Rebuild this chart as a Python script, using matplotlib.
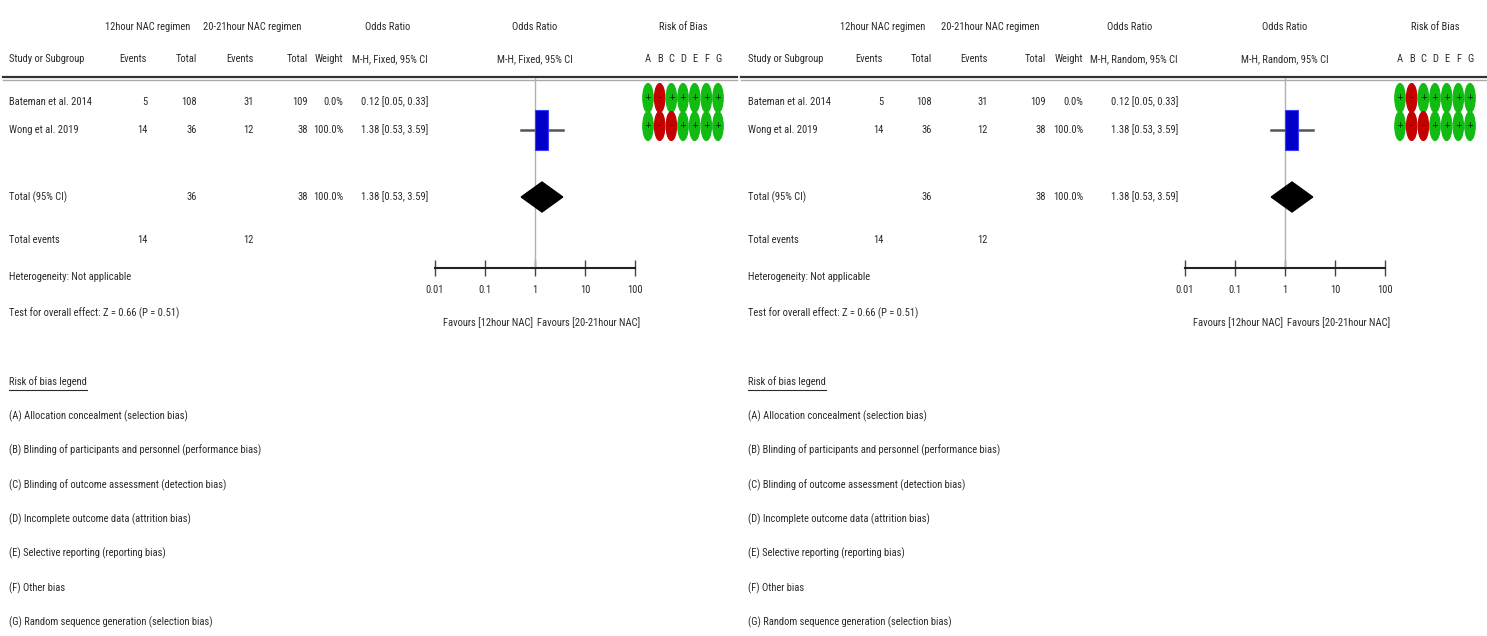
import numpy as np
import matplotlib
matplotlib.use('Agg')
import matplotlib.pyplot as plt
from matplotlib import font_manager
from matplotlib.patches import Rectangle, Polygon, Ellipse

# pick the narrowest installed family
installed = {f.name for f in font_manager.fontManager.ttflist}
family = 'DejaVu Sans'
for cand in ['Liberation Sans Narrow', 'Arial Narrow', 'DejaVu Sans Condensed',
             'Roboto Condensed', 'Liberation Sans', 'Roboto']:
    if cand in installed:
        family = cand
        break
plt.rcParams['font.family'] = [family, 'DejaVu Sans']

# data
studies = ['Bateman et al. 2014', 'Wong et al. 2019']
events_12h = [5, 14]
total_12h = [108, 36]
events_20h = [31, 12]
total_20h = [109, 38]
weights = [0.0, 100.0]
odds = [0.12, 1.38]
ci_low = [0.05, 0.53]
ci_high = [0.33, 3.59]
pooled_or = 1.38
pooled_low = 0.53
pooled_high = 3.59
pooled_total_12h = 36
pooled_total_20h = 38
rob = [['+', '-', '+', '+', '+', '+', '+'],
       ['+', '-', '-', '+', '+', '+', '+']]
rob_letters = ['A', 'B', 'C', 'D', 'E', 'F', 'G']
ticks = [0.01, 0.1, 1, 10, 100]
tick_labels = ['0.01', '0.1', '1', '10', '100']
methods = ['M-H, Fixed, 95% CI', 'M-H, Random, 95% CI']
heterogeneity = 'Heterogeneity: Not applicable'
overall = 'Test for overall effect: Z = 0.66 (P = 0.51)'
legend_items = ['(A) Allocation concealment (selection bias)',
                '(B) Blinding of participants and personnel (performance bias)',
                '(C) Blinding of outcome assessment (detection bias)',
                '(D) Incomplete outcome data (attrition bias)',
                '(E) Selective reporting (reporting bias)',
                '(F) Other bias',
                '(G) Random sequence generation (selection bias)']

W, H = 1487, 636
fig = plt.figure(figsize=(W / 100, H / 100), dpi=100)
ax = fig.add_axes([0, 0, 1, 1])
ax.set_xlim(0, W)
ax.set_ylim(H, 0)
ax.axis('off')

# scale font so the header width matches the reference (~76 px)
probe = ax.text(0, 0, 'Study or Subgroup', fontsize=10)
fig.canvas.draw()
FS = 10 * 76 / probe.get_window_extent().width
probe.remove()
TC = '#2b2b2b'

# layout of the two panels (pixel positions)
panels = [
    dict(study=9, ev1=147, tot1=197, ev2=254, tot2=308, wt=343, ci=428,
         grp1=148, grp2=252, or1=388, f0=435, f1=635, rob0=648, rob1=718,
         line0=3, line1=737),
    dict(study=748, ev1=883, tot1=932, ev2=988, tot2=1046, wt=1083, ci=1178,
         grp1=883, grp2=990, or1=1130, f0=1185, f1=1385, rob0=1400, rob1=1470,
         line0=741, line1=1487),
]

y_h1, y_h2, y_line = 27, 59, 78
y_rows = [102, 130]
y_tot, y_ev, y_het, y_test = 197, 240, 277, 313
y_axis, y_fav = 268, 323
y_leg = 382


def txt(x, y, s, ha='left', **kw):
    return ax.text(x, y, s, ha=ha, va='center', fontsize=FS, color=TC, **kw)


for p, method in zip(panels, methods):
    # headers
    txt(p['grp1'], y_h1, '12hour NAC regimen', ha='center')
    txt(p['grp2'], y_h1, '20-21hour NAC regimen', ha='center')
    txt(p['or1'], y_h1, 'Odds Ratio', ha='center')
    fc = (p['f0'] + p['f1']) / 2
    txt(fc, y_h1, 'Odds Ratio', ha='center')
    txt((p['rob0'] + p['rob1']) / 2, y_h1, 'Risk of Bias', ha='center')
    txt(p['study'], y_h2, 'Study or Subgroup')
    txt(p['ev1'], y_h2, 'Events', ha='right')
    txt(p['tot1'], y_h2, 'Total', ha='right')
    txt(p['ev2'], y_h2, 'Events', ha='right')
    txt(p['tot2'], y_h2, 'Total', ha='right')
    txt(p['wt'], y_h2, 'Weight', ha='right')
    txt(p['ci'], y_h2, method, ha='right')
    txt(fc, y_h2, method, ha='center')
    rob_x = np.linspace(p['rob0'], p['rob1'], len(rob_letters))
    for x, l in zip(rob_x, rob_letters):
        txt(x, y_h2, l, ha='center')
    ax.plot([p['line0'], p['line1']], [y_line - 1, y_line - 1], color='#333333', lw=1.6)
    ax.plot([p['line0'], p['line1']], [y_line + 1.5, y_line + 1.5], color='#aaaaaa', lw=1)

    # study rows
    for i, y in enumerate(y_rows):
        txt(p['study'], y, studies[i])
        txt(p['ev1'], y, str(events_12h[i]), ha='right')
        txt(p['tot1'], y, str(total_12h[i]), ha='right')
        txt(p['ev2'], y, str(events_20h[i]), ha='right')
        txt(p['tot2'], y, str(total_20h[i]), ha='right')
        txt(p['wt'], y, f'{weights[i]:.1f}%', ha='right')
        txt(p['ci'], y, f'{odds[i]:.2f} [{ci_low[i]:.2f}, {ci_high[i]:.2f}]', ha='right')
        for x, r in zip(rob_x, rob[i]):
            col = '#11bb11' if r == '+' else '#c40000'
            ax.add_patch(Ellipse((x, y - 4), 10.5, 29, fc=col, ec=col, lw=0.8))
            ax.text(x, y - 4, '+' if r == '+' else '\u2013', ha='center', va='center',
                    fontsize=6, color='#111111', family='DejaVu Sans')

    # totals
    txt(p['study'], y_tot, 'Total (95% CI)')
    txt(p['tot1'], y_tot, str(pooled_total_12h), ha='right')
    txt(p['tot2'], y_tot, str(pooled_total_20h), ha='right')
    txt(p['wt'], y_tot, f'{sum(weights):.1f}%', ha='right')
    txt(p['ci'], y_tot, f'{pooled_or:.2f} [{pooled_low:.2f}, {pooled_high:.2f}]', ha='right')
    txt(p['study'], y_ev, 'Total events')
    txt(p['ev1'], y_ev, str(sum(e for e, w in zip(events_12h, weights) if w > 0)), ha='right')
    txt(p['ev2'], y_ev, str(sum(e for e, w in zip(events_20h, weights) if w > 0)), ha='right')
    txt(p['study'], y_het, heterogeneity)
    txt(p['study'], y_test, overall)

    # forest plot axis
    fax = fig.add_axes([p['f0'] / W, 1 - y_axis / H, (p['f1'] - p['f0']) / W, (y_axis - y_line) / H])
    fax.set_xscale('log')
    fax.set_xlim(0.01, 100)
    fax.set_ylim(y_axis, y_line)
    fax.patch.set_alpha(0)
    for s in ['top', 'left', 'right']:
        fax.spines[s].set_visible(False)
    fax.spines['bottom'].set_linewidth(1.5)
    fax.spines['bottom'].set_color('#222222')
    fax.set_yticks([])
    fax.set_xticks(ticks)
    fax.set_xticklabels(tick_labels)
    fax.minorticks_off()
    fax.tick_params(axis='x', direction='inout', length=11, width=1, color='#444444',
                    labelsize=FS, labelcolor=TC, pad=7)
    fax.axvline(1, color='#b0b0b0', lw=1)
    for i, y in enumerate(y_rows):
        if weights[i] <= 0:
            continue
        fax.plot([ci_low[i], ci_high[i]], [y, y], color='#555555', lw=1.8)
        k = 10 ** 0.13
        fax.add_patch(Rectangle((odds[i] / k, y - 20), odds[i] * k - odds[i] / k, 40,
                                fc='#0000c8', ec='#3a3aff', lw=0.8, zorder=3))
    fax.add_patch(Polygon([(pooled_low, y_tot), (pooled_or, y_tot - 15),
                           (pooled_high, y_tot), (pooled_or, y_tot + 15)],
                          closed=True, fc='black', ec='black', zorder=3))
    txt(fc - 2, y_fav, 'Favours [12hour NAC]', ha='right')
    txt(fc + 2, y_fav, 'Favours [20-21hour NAC]', ha='left')

    # risk of bias legend
    t = txt(p['study'], y_leg, 'Risk of bias legend')
    fig.canvas.draw()
    bb = t.get_window_extent()
    ax.plot([p['study'], p['study'] + bb.width], [y_leg + 8, y_leg + 8], color=TC, lw=0.8)
    for j, item in enumerate(legend_items):
        txt(p['study'], y_leg + 34.3 * (j + 1), item)

fig.savefig('out.png', dpi=100)
